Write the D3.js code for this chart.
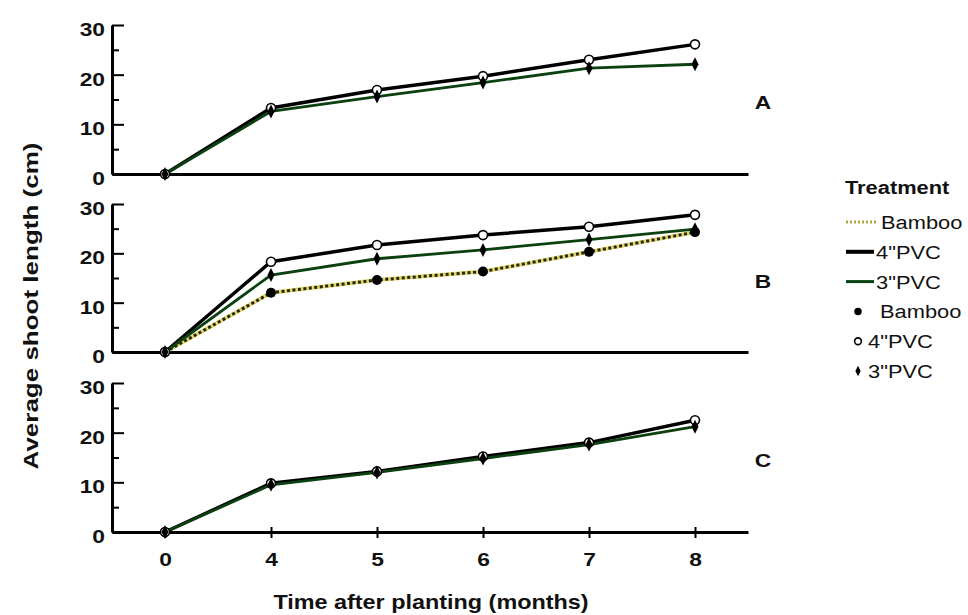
<!DOCTYPE html>
<html>
<head>
<meta charset="utf-8">
<script src="https://cdn.jsdelivr.net/npm/d3@7"></script>
<style>
body { margin: 0; background: #fff; }
svg text { font-family: "Liberation Sans", Arial, sans-serif; fill: #111; }
</style>
</head>
<body>
<div id="chart"></div>
<script>
// months after planting (categorical axis)
const months = ["0", "4", "5", "6", "7", "8"];
const seriesNames = ["Bamboo", "4\"PVC", "3\"PVC"];
const panelLabels = ["A", "B", "C"];
const yTicks = [0, 10, 20, 30];
const yMinorTicks = [5, 15, 25];

// panel A
const aPvc4 = [0, 13.3, 16.9, 19.7, 23.0, 26.1];
const aPvc3 = [0, 12.6, 15.6, 18.4, 21.3, 22.1];
// panel B
const bBamboo = [0, 12.0, 14.6, 16.3, 20.3, 24.3];
const bPvc4 = [0, 18.3, 21.7, 23.7, 25.4, 27.8];
const bPvc3 = [0, 15.6, 18.9, 20.7, 22.8, 24.9];
// panel C
const cPvc4 = [0, 9.8, 12.2, 15.2, 18.0, 22.5];
const cPvc3 = [0, 9.5, 12.0, 14.8, 17.6, 21.2];

const panels = [
    { label: panelLabels[0], series: [[seriesNames[1], aPvc4], [seriesNames[2], aPvc3]] },
    { label: panelLabels[1], series: [[seriesNames[0], bBamboo], [seriesNames[1], bPvc4], [seriesNames[2], bPvc3]] },
    { label: panelLabels[2], series: [[seriesNames[1], cPvc4], [seriesNames[2], cPvc3]] }
];

const W = 968, H = 615;
const panelTop = [25, 204, 383];
const panelBottom = [174, 352, 532];
const SX = 1.2; // text in the figure is drawn wide
const GREEN = "#0b4010";

const svg = d3.select("#chart").append("svg")
    .attr("width", W)
    .attr("height", H);
svg.append("rect").attr("width", W).attr("height", H).attr("fill", "#fff");

const x = d3.scalePoint().domain(months).range([112, 748]).padding(0.5);

function wideText(sel, s) {
    sel.each(function () {
        const t = d3.select(this);
        const tx = +t.attr("x") || 0;
        t.attr("x", tx / s).attr("transform", `scale(${s},1)`);
    });
}

function drawMarker(g, name, cx, cy, small) {
    const k = small ? 0.75 : 1;
    if (name === "Bamboo") {
        g.append("circle").attr("cx", cx).attr("cy", cy).attr("r", 5 * k).attr("fill", "#000");
    } else if (name === "4\"PVC") {
        g.append("circle").attr("cx", cx).attr("cy", cy).attr("r", 4.5 * k)
            .attr("fill", "#fff").attr("stroke", "#000").attr("stroke-width", 1.6);
    } else {
        g.append("path")
            .attr("d", `M${cx},${cy - 7 * k}L${cx + 3.5 * k},${cy}L${cx},${cy + 7 * k}L${cx - 3.5 * k},${cy}Z`)
            .attr("fill", "#000");
    }
}

function drawLine(g, name, path) {
    if (name === "Bamboo") {
        g.append("path").attr("d", path).attr("fill", "none")
            .attr("stroke", "#e4da6a").attr("stroke-width", 4);
        g.append("path").attr("d", path).attr("fill", "none")
            .attr("stroke", "#26260f").attr("stroke-width", 3).attr("stroke-dasharray", "3,2.5");
    } else if (name === "4\"PVC") {
        g.append("path").attr("d", path).attr("fill", "none")
            .attr("stroke", "#000").attr("stroke-width", 3.5);
    } else {
        g.append("path").attr("d", path).attr("fill", "none")
            .attr("stroke", GREEN).attr("stroke-width", 2.8);
    }
}

panels.forEach((p, i) => {
    const y = d3.scaleLinear().domain([0, 30]).range([panelBottom[i], panelTop[i]]);
    const g = svg.append("g");

    // y axis, ticks pointing inwards
    const ya = g.append("g").attr("transform", "translate(112,0)")
        .call(d3.axisLeft(y).tickValues(yTicks).tickSizeInner(-12).tickSizeOuter(0).tickPadding(7));
    ya.select(".domain").attr("stroke", "#000").attr("stroke-width", 3);
    ya.selectAll(".tick line").attr("stroke", "#000").attr("stroke-width", 2);
    ya.selectAll("text")
        .attr("font-size", 19).attr("font-weight", "bold").attr("dy", "0.55em")
        .call(wideText, SX);

    const ym = g.append("g").attr("transform", "translate(112,0)")
        .call(d3.axisLeft(y).tickValues(yMinorTicks).tickSizeInner(-7).tickSizeOuter(0).tickFormat(""));
    ym.select(".domain").remove();
    ym.selectAll(".tick line").attr("stroke", "#000").attr("stroke-width", 2);

    // x axis
    const xa = g.append("g").attr("transform", `translate(0,${y(0)})`);
    if (i === 2) {
        xa.call(d3.axisBottom(x).tickSizeInner(6).tickSizeOuter(0).tickPadding(15));
        xa.selectAll(".tick line").attr("y1", -5).attr("stroke", "#000").attr("stroke-width", 2);
        xa.selectAll("text").attr("font-size", 19).attr("font-weight", "bold").call(wideText, SX);
    } else {
        xa.call(d3.axisBottom(x).tickValues([]).tickSizeOuter(0));
    }
    xa.select(".domain").attr("stroke", "#000").attr("stroke-width", 3);

    const line = d3.line()
        .x((d, j) => x(months[j]))
        .y(d => y(d));

    const order = ["Bamboo", "4\"PVC", "3\"PVC"];
    const sorted = p.series.slice().sort((a, b) => order.indexOf(a[0]) - order.indexOf(b[0]));
    sorted.forEach(([name, vals]) => drawLine(g, name, line(vals)));
    sorted.forEach(([name, vals]) => {
        vals.forEach((v, j) => drawMarker(g, name, x(months[j]), y(v), false));
    });

    g.append("text")
        .attr("x", 763).attr("y", y(13))
        .attr("text-anchor", "middle")
        .attr("font-size", 19).attr("font-weight", "bold")
        .text(p.label)
        .call(wideText, SX);
});

// axis titles
svg.append("text")
    .attr("transform", `translate(431,609) scale(1.17,1)`)
    .attr("text-anchor", "middle")
    .attr("font-size", 20).attr("font-weight", "bold")
    .text("Time after planting (months)");

svg.append("text")
    .attr("transform", `translate(38,306) rotate(-90) scale(1.3,1)`)
    .attr("text-anchor", "middle")
    .attr("font-size", 20).attr("font-weight", "bold")
    .text("Average shoot length (cm)");

// legend
const lg = svg.append("g");
lg.append("text")
    .attr("x", 845).attr("y", 194)
    .attr("font-size", 19).attr("font-weight", "bold")
    .text("Treatment")
    .call(wideText, 1.15);

const rowY = d3.scalePoint().domain(d3.range(6)).range([229, 378]);
seriesNames.forEach((name, k) => {
    const cy = rowY(k) - 7;
    if (name === "Bamboo") {
        lg.append("line").attr("x1", 846).attr("x2", 877).attr("y1", cy).attr("y2", cy)
            .attr("stroke", "#b3a640").attr("stroke-width", 3).attr("stroke-dasharray", "2,2");
    } else {
        lg.append("line").attr("x1", 846).attr("x2", 874).attr("y1", cy).attr("y2", cy)
            .attr("stroke", name === "4\"PVC" ? "#000" : GREEN)
            .attr("stroke-width", name === "4\"PVC" ? 4 : 3);
    }
    lg.append("text").attr("x", name === "Bamboo" ? 881 : 876).attr("y", rowY(k))
        .attr("font-size", 19).text(name).call(wideText, 1.15);
});
seriesNames.forEach((name, k) => {
    const cy = rowY(k + 3) - 7;
    drawMarker(lg, name, 858, cy, true);
    lg.append("text").attr("x", name === "Bamboo" ? 880 : 868).attr("y", rowY(k + 3))
        .attr("font-size", 19).text(name).call(wideText, 1.15);
});
</script>
</body>
</html>
